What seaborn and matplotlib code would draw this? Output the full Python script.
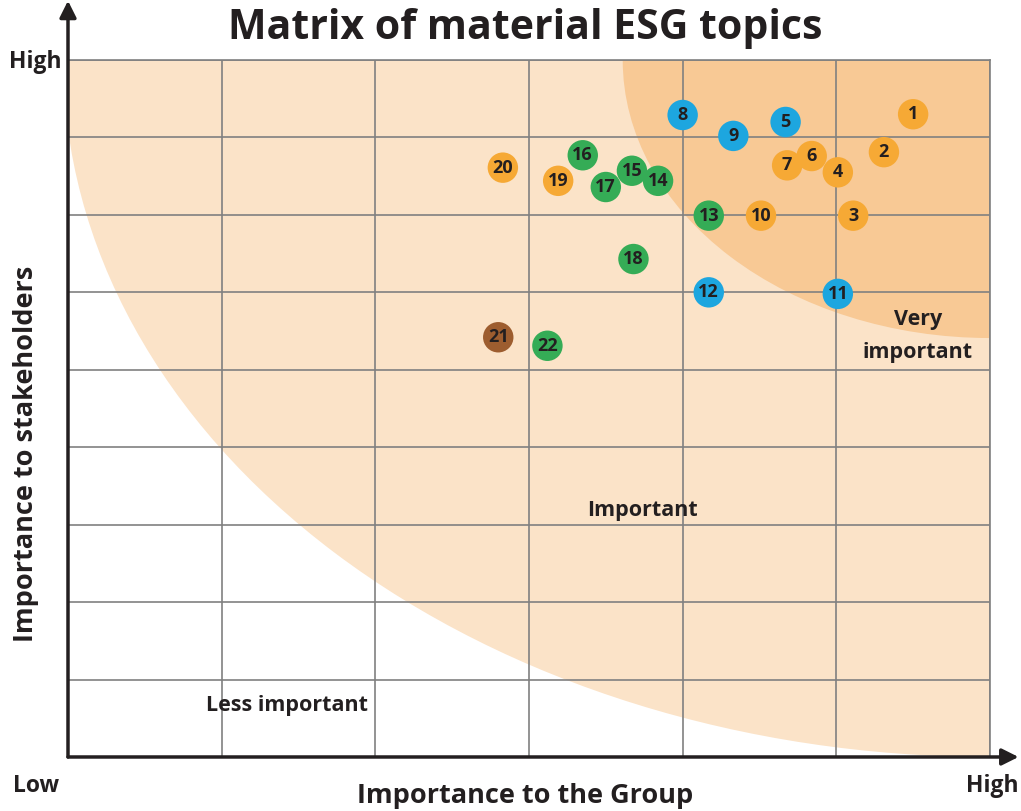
import pandas as pd
import matplotlib.pyplot as plt
import seaborn as sns
from matplotlib.patches import Ellipse

# topic number, importance to the Group (x), importance to stakeholders (y), colour group
topics = [1, 2, 3, 4, 5, 6, 7, 8, 9, 10, 11, 12, 13, 14, 15, 16, 17, 18, 19, 20, 21, 22]
group_score = [5.50, 5.31, 5.11, 5.01, 4.67, 4.84, 4.68, 4.00, 4.33, 4.51, 5.01,
               4.17, 4.17, 3.84, 3.67, 3.35, 3.50, 3.68, 3.19, 2.83, 2.80, 3.12]
stakeholder_score = [8.30, 7.81, 6.99, 7.55, 8.20, 7.76, 7.64, 8.29, 8.02, 6.99, 5.98,
                     6.00, 6.99, 7.44, 7.57, 7.77, 7.36, 6.43, 7.44, 7.61, 5.42, 5.31]
category = ['orange', 'orange', 'orange', 'orange', 'blue', 'orange', 'orange', 'blue',
            'blue', 'orange', 'blue', 'blue', 'green', 'green', 'green', 'green', 'green',
            'green', 'orange', 'orange', 'brown', 'green']
palette = {'orange': '#F6A935', 'blue': '#1DA6DF', 'green': '#35AC56', 'brown': '#9D5D2F'}

df = pd.DataFrame({'topic': topics, 'x': group_score, 'y': stakeholder_score, 'cat': category})

sns.set_theme(style="white")
plt.rcParams['font.family'] = ['Open Sans', 'DejaVu Sans']

fig = plt.figure(figsize=(10.21, 8.11), dpi=100)
ax = fig.add_axes([0.0666, 0.0666, 0.9030, 0.8594])
ax.set_xlim(0, 6)
ax.set_ylim(0, 9)

# importance zones
ax.add_patch(Ellipse((6, 9), 2 * 6.03, 2 * 9.0, facecolor='#FBE3C8', edgecolor='none', zorder=0))
ax.add_patch(Ellipse((6, 9), 2 * 2.39, 2 * 3.59, facecolor='#F8C995', edgecolor='none', zorder=0.5))

ax.set_xticks(range(0, 7))
ax.set_yticks(range(0, 10))
ax.grid(True, color='#808080', lw=1.2, zorder=1)
ax.set_axisbelow(False)
ax.tick_params(labelbottom=False, labelleft=False, length=0)

sns.scatterplot(data=df, x='x', y='y', hue='cat', palette=palette, s=480,
                edgecolor='none', legend=False, ax=ax, zorder=3, clip_on=False)
for t, xv, yv in zip(topics, group_score, stakeholder_score):
    ax.text(xv, yv, str(t), ha='center', va='center', fontsize=13,
            fontweight='bold', color='#231F20', zorder=4)

for side in ['top', 'right']:
    ax.spines[side].set_color('#808080')
    ax.spines[side].set_linewidth(1.2)
for side in ['left', 'bottom']:
    ax.spines[side].set_visible(False)

# axis arrows
ax.annotate('', xy=(0, 1.085), xytext=(0, 0), xycoords='axes fraction',
            arrowprops=dict(arrowstyle='-|>', color='#231F20', lw=2.5, mutation_scale=25,
                            shrinkA=0, shrinkB=0), zorder=5)
ax.annotate('', xy=(1.031, 0), xytext=(0, 0), xycoords='axes fraction',
            arrowprops=dict(arrowstyle='-|>', color='#231F20', lw=2.5, mutation_scale=25,
                            shrinkA=0, shrinkB=0), zorder=5)

ax.set_xlabel('')
ax.set_ylabel('')

txt = dict(fontweight='bold', color='#231F20')
ax.text(5.53, 5.43, 'Very\nimportant', ha='center', va='center', fontsize=15.5,
        linespacing=1.75, **txt)
ax.text(3.74, 3.18, 'Important', ha='center', va='center', fontsize=15.5, **txt)
ax.text(1.425, 0.67, 'Less important', ha='center', va='center', fontsize=15.5, **txt)

fig.text(0.514, 0.965, 'Matrix of material ESG topics', ha='center', va='center',
         fontsize=29.5, **txt)
fig.text(0.514, 0.018, 'Importance to the Group', ha='center', va='center',
         fontsize=19.5, **txt)
fig.text(0.025, 0.44, 'Importance to stakeholders', ha='center', va='center',
         fontsize=19.5, rotation=90, **txt)
fig.text(0.035, 0.924, 'High', ha='center', va='center', fontsize=16.5, **txt)
fig.text(0.035, 0.031, 'Low', ha='center', va='center', fontsize=16.5, **txt)
fig.text(0.9716, 0.031, 'High', ha='center', va='center', fontsize=16.5, **txt)

fig.savefig('out.png', dpi=100)
